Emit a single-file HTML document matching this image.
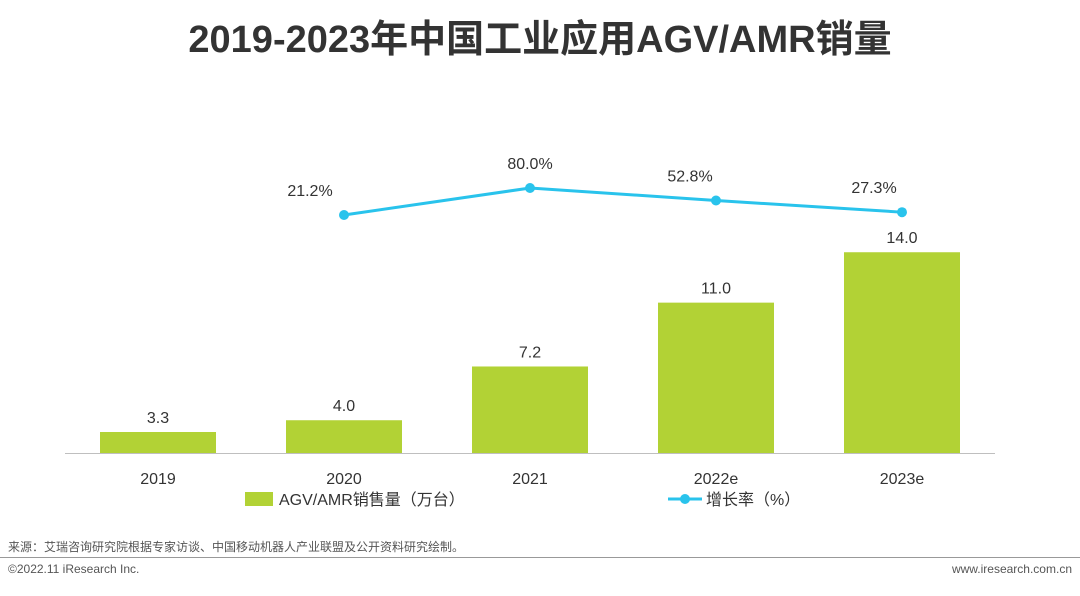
<!DOCTYPE html>
<html><head><meta charset="utf-8"><style>
body{margin:0;width:1080px;height:591px;background:#fff;overflow:hidden;font-family:"Liberation Sans","Noto Sans CJK SC",sans-serif;}
</style></head><body>
<svg width="1080" height="591" xmlns="http://www.w3.org/2000/svg" style="font-family:'Liberation Sans','Noto Sans CJK SC',sans-serif">
<text x="540" y="52" text-anchor="middle" font-size="38" font-weight="bold" fill="#333">2019-2023年中国工业应用AGV/AMR销量</text>
<line x1="65" y1="453.5" x2="995" y2="453.5" stroke="#bfbfbf" stroke-width="1"/>
<g id="bars"></g><g id="line"></g><g id="labels"></g>
<rect x="245" y="492" width="28" height="14" fill="#B2D235"/>
<text x="279" y="505" font-size="16" fill="#333">AGV/AMR销售量（万台）</text>
<line x1="668" y1="499" x2="702" y2="499" stroke="#29C3EC" stroke-width="3"/>
<circle cx="685" cy="499" r="5" fill="#29C3EC"/>
<text x="706" y="505" font-size="16" fill="#333">增长率（%）</text>
<text x="8" y="551" font-size="12" fill="#555">来源：艾瑞咨询研究院根据专家访谈、中国移动机器人产业联盟及公开资料研究绘制。</text>
<line x1="0" y1="557.5" x2="1080" y2="557.5" stroke="#999"/>
<text x="8" y="573" font-size="12" fill="#555">©2022.11 iResearch Inc.</text>
<text x="1072" y="573" font-size="12" fill="#555" text-anchor="end">www.iresearch.com.cn</text>
</svg>
<script>
const categories=["2019","2020","2021","2022e","2023e"];
const sales=[3.3,4.0,7.2,11.0,14.0];
const salesLabels=["3.3","4.0","7.2","11.0","14.0"];
const growth=[null,21.2,80.0,52.8,27.3];
const growthLabels=["","21.2%","80.0%","52.8%","27.3%"];
const NS="http://www.w3.org/2000/svg";
const xC=i=>158+i*186;
const yBar=v=>453-(v-2.05)*16.8;
const yLine=v=>188+(80-v)*0.459;
function mk(tag,attrs,parent,txt){const e=document.createElementNS(NS,tag);for(const k in attrs)e.setAttribute(k,attrs[k]);if(txt!==undefined)e.textContent=txt;document.querySelector(parent).appendChild(e);return e;}
function supp(i){return [0,34,0,26,28][i];}
categories.forEach((c,i)=>{
 const y=yBar(sales[i]);
 const b=mk('rect',{x:xC(i)-58,y:y,width:116,height:453-y,fill:'#B2D235'},'#bars');
 
 
 const t=mk('text',{x:xC(i),y:y-9,'text-anchor':'middle','font-size':16,fill:'#333'},'#labels',salesLabels[i]);
 
 
 const xl=mk('text',{x:xC(i),y:484,'text-anchor':'middle','font-size':16,fill:'#333'},'#labels',c);
 
 
});
let pts=[];
growth.forEach((g,i)=>{if(g!==null)pts.push([xC(i),yLine(g),i]);});
const pl=mk('polyline',{points:pts.map(p=>p[0]+','+p[1]).join(' '),fill:'none',stroke:'#29C3EC','stroke-width':3},'#line');


pts.forEach(p=>{
 const c=mk('circle',{cx:p[0],cy:p[1],r:5,fill:'#29C3EC'},'#line');
 
 
 const t=mk('text',{x:p[0]-supp(p[2]),y:p[1]-19,'text-anchor':'middle','font-size':16,fill:'#333'},'#labels',growthLabels[p[2]]);
 
 
});
</script>
</body></html>
